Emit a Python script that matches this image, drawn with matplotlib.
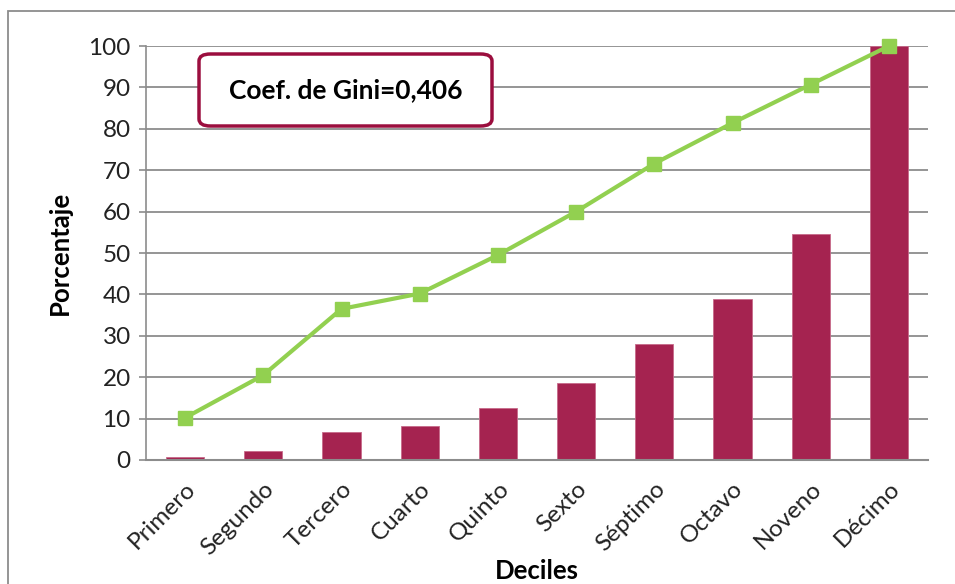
import matplotlib
matplotlib.use("Agg")
import matplotlib.pyplot as plt
from matplotlib.patches import Rectangle, FancyBboxPatch

categories = ["Primero", "Segundo", "Tercero", "Cuarto", "Quinto",
              "Sexto", "Séptimo", "Octavo", "Noveno", "Décimo"]
bar_values = [0.7, 2.2, 6.8, 8.2, 12.5, 18.7, 27.9, 39.0, 54.5, 100.0]
line_values = [10.2, 20.5, 36.5, 40.2, 49.5, 60.0, 71.6, 81.4, 90.7, 100.0]
yticks = [0, 10, 20, 30, 40, 50, 60, 70, 80, 90, 100]
annotation = "Coef. de Gini=0,406"

plt.rcParams['font.family'] = ['Lato', 'DejaVu Sans']

W, H = 955, 584
fig = plt.figure(figsize=(W / 100, H / 100), dpi=100)
ax = fig.add_axes([146 / W, 1 - 460 / H, (928 - 146) / W, (460 - 46) / H])

x = list(range(len(categories)))
ax.bar(x, bar_values, width=0.49, color="#a52350", zorder=2,
       edgecolor="#c76a8a", linewidth=0.6)
ax.plot(x, line_values, color="#92d050", linewidth=3, marker="s",
        markersize=10, markerfacecolor="#92d050", markeredgecolor="#92d050",
        zorder=3, clip_on=False)

ax.set_xlim(-0.5, 9.5)
ax.set_ylim(0, 100)
ax.set_yticks(yticks)
ax.set_yticklabels([str(v) for v in yticks], fontsize=17.5, color="#222222")
ax.set_xticks(x)
ax.set_xticklabels(categories, rotation=45, ha="right", rotation_mode="anchor",
                   fontsize=17.5, color="#222222")
ax.tick_params(axis="x", length=0, pad=13)
ax.tick_params(axis="y", length=5, width=1.2, color="#8c8c8c", pad=6)
ax.yaxis.grid(True, color="#8c8c8c", linewidth=1.3, zorder=0)
ax.set_axisbelow(True)
for s in ["top", "right"]:
    ax.spines[s].set_visible(False)
ax.spines["left"].set_color("#8c8c8c")
ax.spines["left"].set_linewidth(1.2)
ax.spines["bottom"].set_color("#8c8c8c")
ax.spines["bottom"].set_linewidth(1.5)

ax.set_ylabel("Porcentaje", fontsize=18.5, fontweight="bold", labelpad=12)
ax.set_xlabel("Deciles", fontsize=18.5, fontweight="bold", labelpad=0)

# annotation box
bx0, by0, bx1, by1 = 199 / W, 1 - 126 / H, 492 / W, 1 - 54 / H
box = FancyBboxPatch((bx0, by0), bx1 - bx0, by1 - by0,
                     boxstyle="round,pad=0,rounding_size=0.012",
                     transform=fig.transFigure, facecolor="white",
                     edgecolor="#9b0e3e", linewidth=2.5, zorder=5)
fig.patches.append(box)
fig.text((bx0 + bx1) / 2, (by0 + by1) / 2, annotation, ha="center",
         va="center", fontsize=19, fontweight="bold", color="black", zorder=6)

# outer chart border (top and left visible)
border = Rectangle((8 / W, -0.2), 1.5, 1 - 11 / H + 0.2,
                   transform=fig.transFigure, facecolor="none",
                   edgecolor="#8c8c8c", linewidth=1.3, zorder=0)
fig.patches.append(border)

fig.savefig("out.png", dpi=100)
